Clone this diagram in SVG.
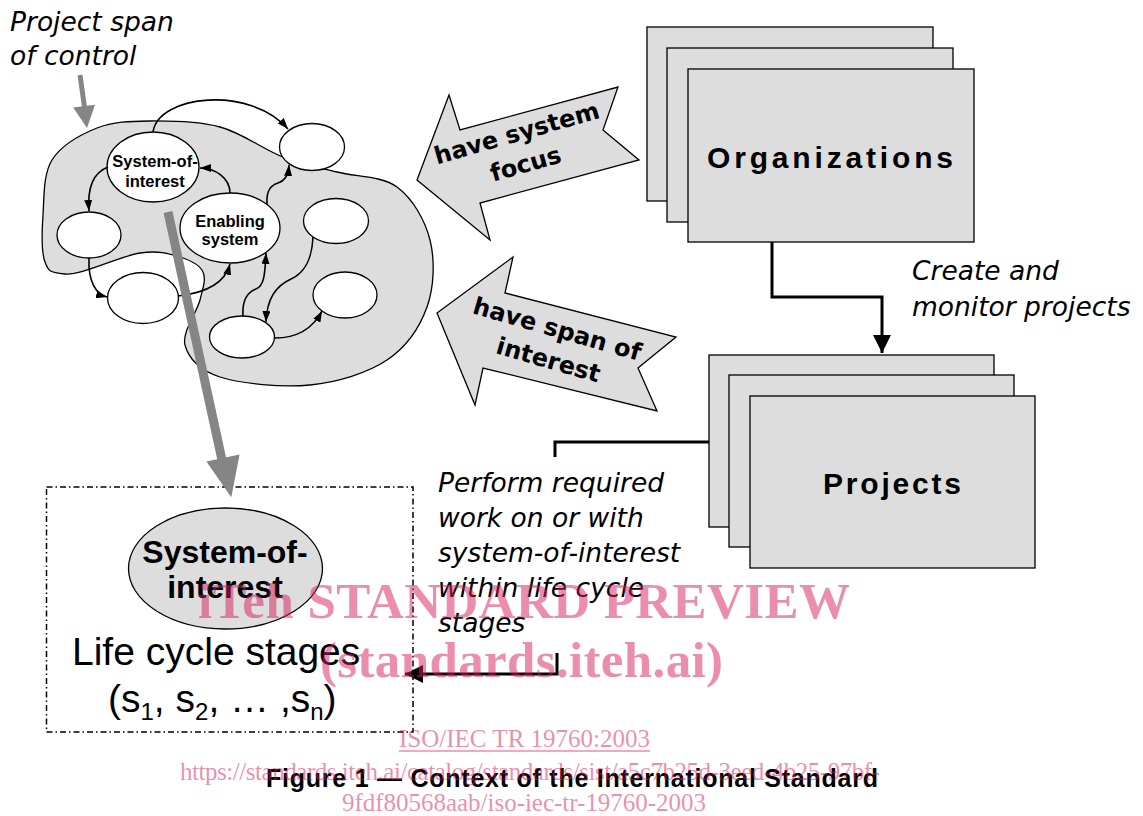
<svg xmlns="http://www.w3.org/2000/svg" width="1143" height="816" viewBox="0 0 1143 816">
  <defs>
    <style>
      .shade{fill:#dddddd;stroke:#000;stroke-width:1.3}
      .bubble{fill:#fff;stroke:#000;stroke-width:1.3}
      .flow{fill:none;stroke:#000;stroke-width:1.6}
      .heavy{fill:none;stroke:#000;stroke-width:3}
      .pointer{fill:none;stroke:#858585}
      .head-grey{fill:#858585}
      .sans-b{font-family:"Liberation Sans",Arial,sans-serif;font-weight:bold;fill:#000}
      .sans{font-family:"Liberation Sans",Arial,sans-serif;fill:#000}
      .verd-b{font-family:"DejaVu Sans",Verdana,sans-serif;font-weight:bold;font-size:24px;fill:#000}
      .note{font-family:"DejaVu Sans",Verdana,sans-serif;font-style:italic;font-size:26.5px;fill:#000}
      .stamp{font-family:"Liberation Serif","Times New Roman",serif;fill:#d81b5a;fill-opacity:0.5}
    </style>
    <marker id="tip" viewBox="0 0 11 8" refX="11" refY="4" markerWidth="11" markerHeight="8" markerUnits="userSpaceOnUse" orient="auto">
      <path d="M0,0 L11,4 L0,8 z" fill="#000"/>
    </marker>
    <marker id="tip-big" viewBox="0 0 18 18" refX="18" refY="9" markerWidth="18" markerHeight="18" markerUnits="userSpaceOnUse" orient="auto">
      <path d="M0,0 L18,9 L0,18 z" fill="#000"/>
    </marker>
  </defs>

  <!-- project span of control: shaded region -->
  <g id="span-of-control">
    <path class="shade" d="M43,215 C44.2,198 43,174.5 52,160 C61,145.5 80.7,134.5 97,128 C113.3,121.5 129.5,121.2 150,121 C170.5,120.8 197.8,121 220,127 C242.2,133 263.5,149.5 283,157 C302.5,164.5 318,167 337,172 C356,177 381.5,175.7 397,187 C412.5,198.3 425,220 430,240 C435,260 434.2,287 427,307 C419.8,327 406.5,347 387,360 C367.5,373 337.8,382.2 310,385 C282.2,387.8 240.8,383.7 220,377 C199.2,370.3 188.3,357.8 185,345 C181.7,332.2 197,312.2 200,300 C203,287.8 206.3,279.2 203,272 C199.7,264.8 190.5,260.2 180,257 C169.5,253.8 159.2,250.2 140,253 C120.8,255.8 80.8,275.8 65,274 C49.2,272.2 48.7,271.8 45,262 C41.3,252.2 41.8,232 43,215 Z"/>
  </g>

  <!-- systems inside the region -->
  <g id="system-of-interest">
    <ellipse class="bubble" cx="153" cy="167" rx="46" ry="35"/>
    <text class="sans-b" font-size="16.5" text-anchor="middle"><tspan x="155" y="167">System-of-</tspan><tspan x="155" y="187">interest</tspan></text>
  </g>
  <g id="enabling-system">
    <ellipse class="bubble" cx="230" cy="228" rx="50" ry="35"/>
    <text class="sans-b" font-size="16.5" text-anchor="middle"><tspan x="230" y="227">Enabling</tspan><tspan x="230" y="245">system</tspan></text>
  </g>
  <g id="system-top-right"><ellipse class="bubble" cx="312" cy="147" rx="32.5" ry="23.5"/></g>
  <g id="system-left"><ellipse class="bubble" cx="89" cy="235" rx="32" ry="23"/></g>
  <g id="system-lower-left"><ellipse class="bubble" cx="143" cy="298" rx="35.5" ry="25.5"/></g>
  <g id="system-right"><ellipse class="bubble" cx="336" cy="221" rx="32.5" ry="22.5"/></g>
  <g id="system-lower-right"><ellipse class="bubble" cx="345" cy="295" rx="32" ry="23"/></g>
  <g id="system-bottom"><ellipse class="bubble" cx="242" cy="337" rx="32.5" ry="21"/></g>

  <!-- block arrows -->
  <g id="arrow-system-focus">
    <polygon class="shade" points="417,180 449,95 460,130 618,87 603,130 639,160 480,203 490,240"/>
    <g transform="translate(519,141) rotate(-16)">
      <text class="verd-b" text-anchor="middle" x="0" y="0">have system</text>
      <text class="verd-b" text-anchor="middle" x="0" y="32">focus</text>
    </g>
  </g>
  <g id="arrow-span-of-interest">
    <polygon class="shade" points="437,313 513,257 505,293 676,337 638,368 657,411 483,368 475,405"/>
    <g transform="translate(555,337) rotate(16)">
      <text class="verd-b" text-anchor="middle" x="0" y="0">have span of</text>
      <text class="verd-b" text-anchor="middle" x="0" y="32">interest</text>
    </g>
  </g>

  <!-- organizations stack -->
  <g id="organizations">
    <rect class="shade" x="647" y="27" width="286" height="174"/>
    <rect class="shade" x="667" y="48" width="286" height="174"/>
    <rect class="shade" x="688" y="69" width="286" height="173"/>
    <text class="sans-b" font-size="30" x="830" y="168" text-anchor="middle" textLength="246">Organizations</text>
  </g>

  <!-- projects stack -->
  <g id="projects">
    <rect class="shade" x="709" y="355" width="285" height="172"/>
    <rect class="shade" x="729" y="375" width="285" height="172"/>
    <rect class="shade" x="750" y="396" width="285" height="172"/>
    <text class="sans-b" font-size="30" x="892" y="494" text-anchor="middle" textLength="138">Projects</text>
  </g>

  <!-- life cycle box -->
  <g id="life-cycle">
    <rect x="46.5" y="487" width="366.5" height="245" fill="none" stroke="#000" stroke-width="1.5" stroke-dasharray="6,3,1.5,3"/>
    <ellipse class="shade" cx="225.5" cy="568.5" rx="97" ry="60.5"/>
    <text class="sans-b" font-size="32" text-anchor="middle"><tspan x="225" y="563">System-of-</tspan><tspan x="225" y="598">interest</tspan></text>
    <text class="sans" font-size="39" x="72" y="665">Life cycle stages</text>
    <text class="sans" font-size="39" x="108" y="712">(s<tspan font-size="24" dy="8">1</tspan><tspan dy="-8">, s</tspan><tspan font-size="24" dy="8">2</tspan><tspan dy="-8">, … ,s</tspan><tspan font-size="24" dy="8">n</tspan><tspan dy="-8">)</tspan></text>
  </g>

  <!-- connectors -->
  <g id="connectors">
    <path class="flow" marker-end="url(#tip)" d="M153,132 C158,95 250,85 288,129"/>
    <path class="flow" marker-end="url(#tip)" d="M108,167 C95,172 87,185 89,211"/>
    <path class="flow" marker-end="url(#tip)" d="M89,258 C88,280 95,294 107,297"/>
    <path class="flow" marker-end="url(#tip)" d="M178,296 C205,293 225,283 230,264"/>
    <path class="flow" marker-end="url(#tip)" d="M230,193 C230,178 215,168 200,168"/>
    <path class="flow" marker-end="url(#tip)" d="M267,204 C266,189 272,185 278,183 C284,181 288,177 289,165"/>
    <path class="flow" marker-end="url(#tip)" d="M243,316 C242,300 248,292 256,289 C264,286 265,275 266,253"/>
    <path class="flow" marker-end="url(#tip)" d="M313,237 C312,258 306,272 291,279 C276,286 267,298 266,322"/>
    <path class="flow" marker-end="url(#tip)" d="M275,338 C297,338 313,328 322,311"/>

    <path class="heavy" marker-end="url(#tip-big)" d="M772,242 V297 H882 V353"/>
    <path class="heavy" d="M709,442 H555 V457"/>
    <path class="heavy" marker-end="url(#tip-big)" d="M557,653 V674 H405"/>

    <!-- grey pointers -->
    <line class="pointer" stroke-width="5" x1="80" y1="75" x2="84.5" y2="107"/>
    <polygon class="head-grey" points="73.2,107.6 95,104.8 87,128"/>
    <line class="pointer" stroke-width="9" x1="168" y1="212" x2="222" y2="460"/>
    <polygon class="head-grey" points="206.4,461.5 239.6,454.5 231.3,497.2"/>
  </g>

  <!-- annotations -->
  <g id="notes">
    <text class="note"><tspan x="10" y="31">Project span</tspan><tspan x="10" y="65">of control</tspan></text>
    <text class="note"><tspan x="912" y="280">Create and</tspan><tspan x="912" y="316">monitor projects</tspan></text>
    <text class="note"><tspan x="438" y="492">Perform required</tspan><tspan x="438" y="527">work on or with</tspan><tspan x="438" y="562">system-of-interest</tspan><tspan x="438" y="597">within life cycle</tspan><tspan x="438" y="632">stages</tspan></text>
    <text class="sans-b" font-size="25" x="266" y="787" textLength="612">Figure 1 — Context of the International Standard</text>
  </g>

  <!-- publisher stamp -->
  <g id="stamp">
    <text class="stamp" font-weight="bold" font-size="51" x="198" y="618" textLength="652">iTeh STANDARD PREVIEW</text>
    <text class="stamp" font-weight="bold" font-size="51" x="320" y="677" textLength="403">(standards.iteh.ai)</text>
    <text class="stamp" font-size="25" x="399" y="747" textLength="251">ISO/IEC TR 19760:2003</text>
    <line x1="399" y1="751" x2="650" y2="751" stroke="#d81b5a" stroke-opacity="0.5" stroke-width="1.3"/>
    <text class="stamp" font-size="25" x="180" y="780" textLength="700">https://standards.iteh.ai/catalog/standards/sist/a5c7b25d-3eed-4b25-97bf-</text>
    <text class="stamp" font-size="25" x="342" y="811" textLength="364">9fdf80568aab/iso-iec-tr-19760-2003</text>
  </g>
</svg>
